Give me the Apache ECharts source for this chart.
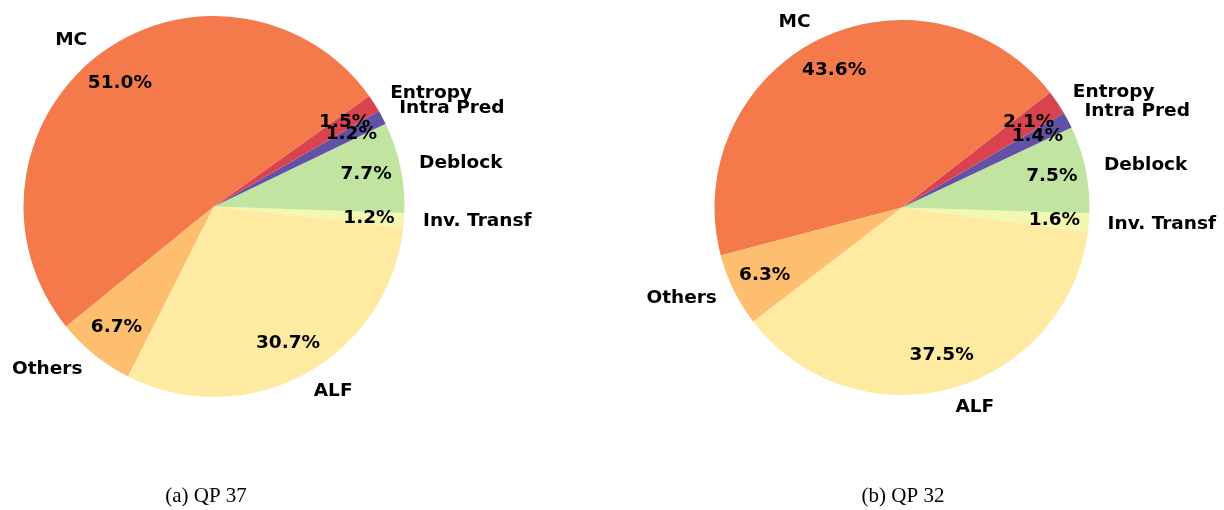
<!DOCTYPE html>
<html>
<head>
<meta charset="utf-8">
<script src="https://cdn.jsdelivr.net/npm/echarts@6/dist/echarts.min.js"></script>
<style>
  html, body { margin: 0; padding: 0; background: #fff; }
  #chart { width: 1224px; height: 510px; }
</style>
</head>
<body>
<div id="chart"></div>
<script>
// slice order, counter-clockwise from the start angle
var categories = ['Inv. Transf', 'Deblock', 'Intra Pred', 'Entropy', 'MC', 'Others', 'ALF'];
var qp37 = [1.2, 7.7, 1.2, 1.5, 51.0, 6.7, 30.7];
var qp32 = [1.6, 7.5, 1.4, 2.1, 43.6, 6.3, 37.5];
var captions = ['(a) QP 37', '(b) QP 32'];

var colors = ['#f2f8b0', '#c1e5a0', '#6251a6', '#d9434f', '#f47a4c', '#fdbe6f', '#feeaa0'];

var lblFont = { fontFamily: 'DejaVu Sans', fontWeight: 'bold', fontSize: 18.5, color: '#000' };

function pieSeries(vals, center, r, start) {
  var data = categories.map(function (c, i) {
    return { name: c, value: vals[i], itemStyle: { color: colors[i] } };
  });
  var pctData = categories.map(function (c, i) {
    return { name: c, value: vals[i] };
  });
  return [
    {
      type: 'pie',
      center: center,
      radius: [0, r],
      startAngle: start,
      clockwise: false,
      avoidLabelOverlap: false,
      silent: true,
      itemStyle: { borderWidth: 0 },
      label: Object.assign({ show: true, position: 'outside', distanceToLabelLine: 0, formatter: '{b}' }, lblFont),
      labelLine: { show: false, length: r * 0.1, length2: 0 },
      labelLayout: { hideOverlap: false },
      emphasis: { disabled: true },
      data: data
    },
    {
      // transparent ring, only used to put the percentages at 0.8 r
      type: 'pie',
      center: center,
      radius: [r * 0.6, r],
      startAngle: start,
      clockwise: false,
      avoidLabelOverlap: false,
      silent: true,
      itemStyle: { color: 'rgba(0,0,0,0)', borderWidth: 0 },
      label: Object.assign({
        show: true, position: 'inside',
        formatter: function (p) { return p.value.toFixed(1) + '%'; }
      }, lblFont),
      labelLine: { show: false },
      labelLayout: { hideOverlap: false },
      emphasis: { disabled: true },
      data: pctData
    }
  ];
}

var myChart = echarts.init(document.getElementById('chart'));
var option = {
  backgroundColor: '#fff',
  animation: false,
  series: [].concat(
    pieSeries(qp37, [214, 206.5], 190.5, -6.3),
    pieSeries(qp32, [902, 207.5], 187.5, -7.5)
  ),
  graphic: [
    { type: 'text', x: 206, y: 496, style: { text: captions[0], font: '21px "Liberation Serif"', fill: '#000', textAlign: 'center', textVerticalAlign: 'middle' } },
    { type: 'text', x: 903, y: 496, style: { text: captions[1], font: '21px "Liberation Serif"', fill: '#000', textAlign: 'center', textVerticalAlign: 'middle' } }
  ]
};
myChart.setOption(option);
</script>
</body>
</html>
